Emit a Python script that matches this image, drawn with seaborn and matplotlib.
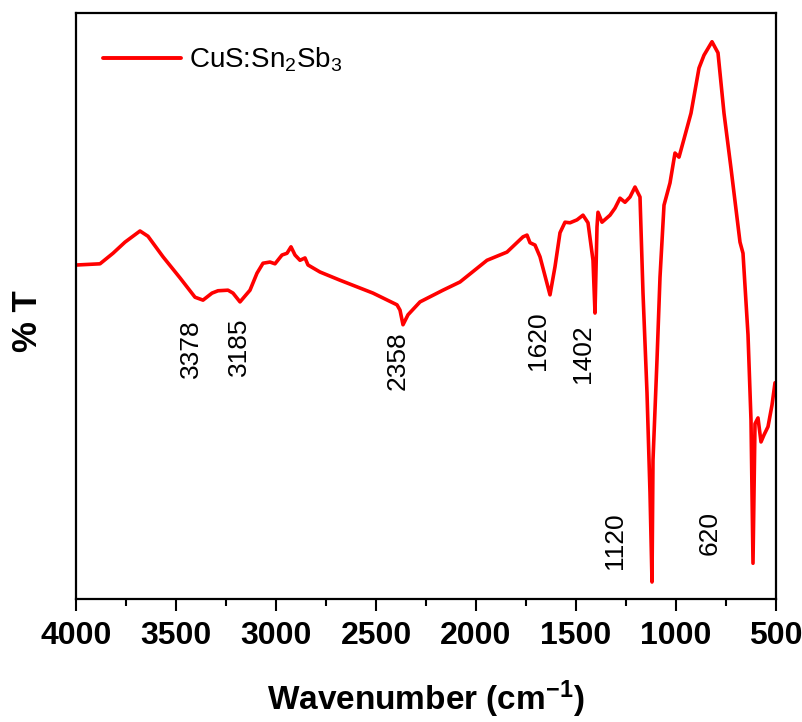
import matplotlib
matplotlib.use("Agg")
import matplotlib.pyplot as plt
import seaborn as sns
import pandas as pd
from matplotlib.ticker import MultipleLocator

# ---- data ----
wavenumber = [3995, 3880, 3815, 3755, 3680, 3640, 3565, 3480, 3405, 3365,
              3320, 3290, 3240, 3215, 3180, 3130, 3095, 3065, 3030, 3005,
              2970, 2945, 2925, 2905, 2880, 2855, 2840, 2780, 2680, 2515,
              2395, 2380, 2365, 2340, 2280, 2165, 2080, 1945, 1845, 1765,
              1745, 1730, 1705, 1680, 1630, 1605, 1580, 1555, 1530, 1495,
              1465, 1440, 1415, 1405, 1395, 1390, 1370, 1330, 1305, 1280,
              1255, 1230, 1205, 1180, 1165, 1145, 1130, 1120, 1115, 1095,
              1080, 1060, 1030, 1005, 985, 960, 925, 885, 860, 820,
              790, 760, 725, 680, 665, 640, 625, 615, 605, 590,
              575, 560, 540, 520, 505]
transmittance = [57.0, 57.2, 59.0, 60.9, 62.8, 61.9, 58.4, 54.8, 51.5, 51.0,
                 52.2, 52.6, 52.7, 52.2, 50.7, 52.7, 55.6, 57.3, 57.5, 57.2,
                 58.7, 59.0, 60.1, 58.7, 57.8, 58.2, 57.0, 55.8, 54.4, 52.2,
                 50.2, 49.3, 46.8, 48.5, 50.7, 52.7, 54.1, 57.8, 59.2, 61.8,
                 62.1, 60.8, 60.4, 58.4, 51.9, 56.7, 62.5, 64.3, 64.2, 64.7,
                 65.5, 64.2, 57.8, 48.8, 63.5, 66.0, 64.3, 65.5, 66.7, 68.4,
                 67.7, 68.6, 70.3, 68.6, 52.2, 35.2, 18.1, 2.9, 23.7, 40.8,
                 54.9, 67.2, 71.0, 76.1, 75.4, 78.5, 82.9, 90.6, 92.8, 95.1,
                 93.2, 82.9, 73.5, 60.9, 59.0, 45.1, 30.5, 6.1, 29.9, 30.9,
                 26.8, 28.0, 29.4, 33.1, 36.9]

series_label = "CuS:Sn$_2$Sb$_3$"

peak_labels = ["3378", "3185", "2358", "1620", "1402", "1120", "620"]
peak_label_x = [3425, 3185, 2390, 1690, 1465, 1305, 830]
peak_label_y = [42.8, 43.0, 40.6, 44.0, 41.8, 9.9, 11.2]

x_ticks = [4000, 3500, 3000, 2500, 2000, 1500, 1000, 500]

# ---- style ----
sns.set_style("white")
plt.rcParams["font.family"] = ["Liberation Sans", "DejaVu Sans"]
plt.rcParams["mathtext.fontset"] = "custom"
plt.rcParams["mathtext.rm"] = "Liberation Sans"
plt.rcParams["mathtext.bf"] = "Liberation Sans:bold"
plt.rcParams["mathtext.default"] = "regular"
plt.rcParams["text.color"] = "black"
plt.rcParams["axes.labelcolor"] = "black"
plt.rcParams["xtick.color"] = "black"
plt.rcParams["legend.labelcolor"] = "black"

fig = plt.figure(figsize=(8.03, 7.22), dpi=100)
ax = fig.add_axes([76 / 803, 1 - 599 / 722, 700 / 803, 586 / 722])

df = pd.DataFrame({"wn": wavenumber, "T": transmittance})
sns.lineplot(data=df, x="wn", y="T", ax=ax, color="#ff0000", linewidth=2.6,
             label=series_label, estimator=None, sort=False)

ax.set_xlim(4000, 500)
ax.set_ylim(0, 100)
ax.set_xticks(x_ticks)
ax.set_xticklabels([str(t) for t in x_ticks])
ax.xaxis.set_minor_locator(MultipleLocator(250))
ax.set_yticks([])

ax.tick_params(axis="x", which="major", direction="out", length=8.5, width=1.5,
               pad=7, labelsize=23, bottom=True, top=False, colors="black")
ax.tick_params(axis="x", which="minor", direction="out", length=5, width=1.5,
               bottom=True, top=False, colors="black")
for lab in ax.get_xticklabels():
    lab.set_fontweight("bold")

for sp in ax.spines.values():
    sp.set_color("black")
    sp.set_linewidth(1.6)

ax.set_xlabel("Wavenumber (cm$^{\\mathbf{-1}}$)", fontsize=24, fontweight="bold",
              va="top", color="black")
ax.xaxis.set_label_coords(0.5, -0.135)
ax.set_ylabel("% T", fontsize=25, fontweight="bold", va="center", color="black")
ax.yaxis.set_label_coords(-0.069, 0.474)

for txt, xx, yy in zip(peak_labels, peak_label_x, peak_label_y):
    ax.text(xx, yy, txt, rotation=90, ha="center", va="center", fontsize=19,
            color="black")

leg = ax.legend(loc="center left", bbox_to_anchor=(0.0386, 0.92), frameon=False,
                fontsize=20, handlelength=2.8, handletextpad=0.3,
                borderpad=0, borderaxespad=0)
for t in leg.get_texts():
    t.set_color("black")
for line in leg.get_lines():
    line.set_linewidth(2.8)

fig.savefig("out.png", dpi=100)
